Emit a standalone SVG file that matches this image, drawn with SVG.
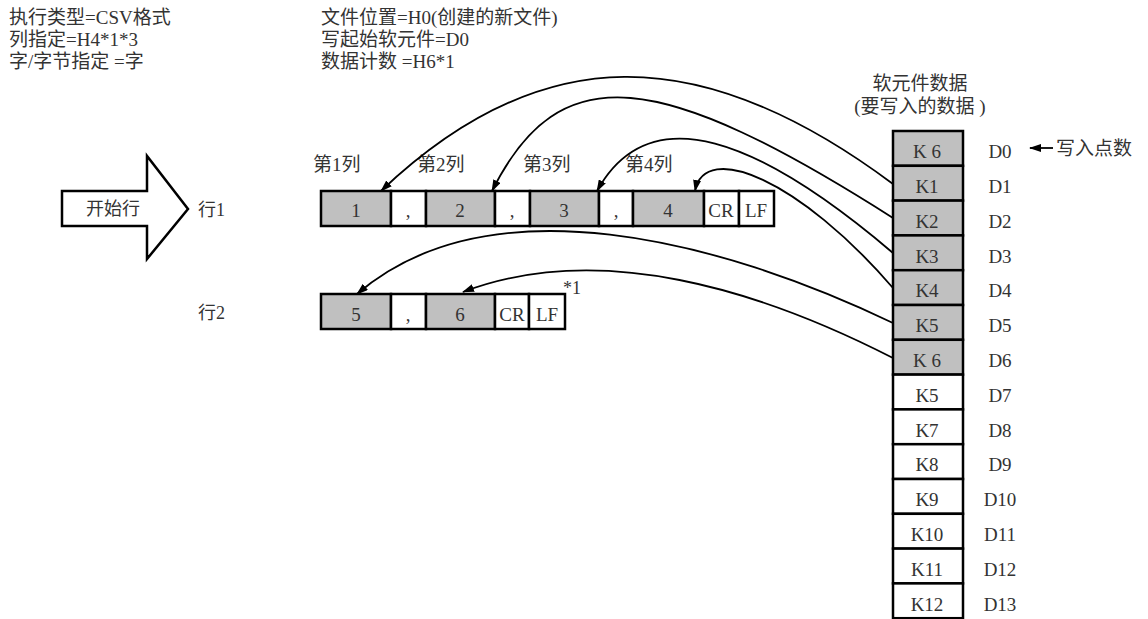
<svg xmlns="http://www.w3.org/2000/svg" width="1148" height="619" viewBox="0 0 1148 619">
<style>
text{font-family:"Liberation Serif","Noto Sans CJK SC",serif;fill:#333;font-size:18px}
.t{font-size:19px}
.c{text-anchor:middle}
.n{font-size:19px}
.g{fill:#c0c0c0;stroke:#000;stroke-width:2.5}
.w{fill:#fff;stroke:#000;stroke-width:2.5}
.cv{fill:none;stroke:#000;stroke-width:1.8}
</style>
<defs>
<marker id="ah" markerUnits="userSpaceOnUse" markerWidth="12" markerHeight="8" refX="11" refY="4" orient="auto">
<path d="M0,0 L12,4 L0,8 z" fill="#000"/>
</marker>
</defs>
<rect width="1148" height="619" fill="#fff"/>

<g id="params-left">
<text class="t" x="9" y="24">执行类型=CSV格式</text>
<text class="t" x="9" y="46">列指定=H4*1*3</text>
<text class="t" x="9" y="68">字/字节指定 =字</text>
</g>
<g id="params-right">
<text class="t" x="321" y="24">文件位置=H0(创建的新文件)</text>
<text class="t" x="321" y="46">写起始软元件=D0</text>
<text class="t" x="321" y="68">数据计数 =H6*1</text>
</g>

<g id="start-arrow">
<polygon points="62,191 147,191 147,156 188,209 147,259 147,226 62,226" fill="#fff" stroke="#000" stroke-width="2.5" stroke-linejoin="miter"/>
<text class="c" x="113" y="215">开始行</text>
</g>
<g id="row-labels">
<text x="198" y="216">行1</text>
<text x="198" y="319">行2</text>
</g>
<g id="col-labels">
<text class="t" x="313" y="171">第1列</text>
<text class="t" x="417" y="171">第2列</text>
<text class="t" x="523" y="171">第3列</text>
<text class="t" x="625" y="171">第4列</text>
</g>

<g id="row1">
<rect class="g" x="321" y="191" width="70" height="35"/>
<rect class="w" x="391" y="191" width="35" height="35"/>
<rect class="g" x="426" y="191" width="69" height="35"/>
<rect class="w" x="495" y="191" width="35" height="35"/>
<rect class="g" x="530" y="191" width="69" height="35"/>
<rect class="w" x="599" y="191" width="34" height="35"/>
<rect class="g" x="633" y="191" width="71" height="35"/>
<rect class="w" x="704" y="191" width="35" height="35"/>
<rect class="w" x="739" y="191" width="35" height="35"/>
<text class="c n" x="356" y="217">1</text>
<text class="c n" x="408" y="217">,</text>
<text class="c n" x="460" y="217">2</text>
<text class="c n" x="512" y="217">,</text>
<text class="c n" x="564" y="217">3</text>
<text class="c n" x="616" y="217">,</text>
<text class="c n" x="668" y="217">4</text>
<text class="c n" x="721" y="217">CR</text>
<text class="c n" x="756" y="217">LF</text>
</g>

<g id="row2">
<rect class="g" x="321" y="294" width="70" height="35"/>
<rect class="w" x="391" y="294" width="35" height="35"/>
<rect class="g" x="426" y="294" width="69" height="35"/>
<rect class="w" x="495" y="294" width="34" height="35"/>
<rect class="w" x="529" y="294" width="36" height="35"/>
<text class="c n" x="356" y="321">5</text>
<text class="c n" x="408" y="321">,</text>
<text class="c n" x="460" y="321">6</text>
<text class="c n" x="512" y="321">CR</text>
<text class="c n" x="547" y="321">LF</text>
<text x="563" y="294">*1</text>
</g>

<g id="device-data">
<text class="c t" x="920" y="90">软元件数据</text>
<text class="c t" x="920" y="113">(要写入的数据 )</text>
<rect class="g" x="893" y="131" width="70" height="34.8"/>
<rect class="g" x="893" y="165.8" width="70" height="34.8"/>
<rect class="g" x="893" y="200.6" width="70" height="34.8"/>
<rect class="g" x="893" y="235.4" width="70" height="34.8"/>
<rect class="g" x="893" y="270.2" width="70" height="34.8"/>
<rect class="g" x="893" y="305" width="70" height="34.8"/>
<rect class="g" x="893" y="339.8" width="70" height="34.8"/>
<rect class="w" x="893" y="374.6" width="70" height="34.8"/>
<rect class="w" x="893" y="409.4" width="70" height="34.8"/>
<rect class="w" x="893" y="444.2" width="70" height="34.8"/>
<rect class="w" x="893" y="479" width="70" height="34.8"/>
<rect class="w" x="893" y="513.8" width="70" height="34.8"/>
<rect class="w" x="893" y="548.6" width="70" height="34.8"/>
<rect class="w" x="893" y="583.4" width="70" height="34.8"/>
<text class="c n" x="927" y="158">K 6</text>
<text class="c n" x="927" y="193">K1</text>
<text class="c n" x="927" y="228">K2</text>
<text class="c n" x="927" y="263">K3</text>
<text class="c n" x="927" y="297">K4</text>
<text class="c n" x="927" y="332">K5</text>
<text class="c n" x="927" y="367">K 6</text>
<text class="c n" x="927" y="402">K5</text>
<text class="c n" x="927" y="437">K7</text>
<text class="c n" x="927" y="471">K8</text>
<text class="c n" x="927" y="506">K9</text>
<text class="c n" x="927" y="541">K10</text>
<text class="c n" x="927" y="576">K11</text>
<text class="c n" x="927" y="611">K12</text>
<text class="c n" x="1000" y="158">D0</text>
<text class="c n" x="1000" y="193">D1</text>
<text class="c n" x="1000" y="228">D2</text>
<text class="c n" x="1000" y="263">D3</text>
<text class="c n" x="1000" y="297">D4</text>
<text class="c n" x="1000" y="332">D5</text>
<text class="c n" x="1000" y="367">D6</text>
<text class="c n" x="1000" y="402">D7</text>
<text class="c n" x="1000" y="437">D8</text>
<text class="c n" x="1000" y="471">D9</text>
<text class="c n" x="1000" y="506">D10</text>
<text class="c n" x="1000" y="541">D11</text>
<text class="c n" x="1000" y="576">D12</text>
<text class="c n" x="1000" y="611">D13</text>
</g>

<g id="write-count-label">
<text class="t" x="1056" y="155">写入点数</text>
</g>

<g id="connectors">
<path class="cv" d="M893,184 C700,40 540,40 381,191" marker-end="url(#ah)"/>
<path class="cv" d="M893,218 C660,70 560,55 492,191" marker-end="url(#ah)"/>
<path class="cv" d="M893,253 C760,140 650,95 597,191" marker-end="url(#ah)"/>
<path class="cv" d="M893,288 C800,180 705,140 695,191" marker-end="url(#ah)"/>
<path class="cv" d="M893,323 C720,240 490,180 357,294" marker-end="url(#ah)"/>
<path class="cv" d="M893,358 C760,290 600,240 463,292" marker-end="url(#ah)"/>
<path class="cv" d="M1053,148 L1030,148" marker-end="url(#ah)"/>
</g>
</svg>
